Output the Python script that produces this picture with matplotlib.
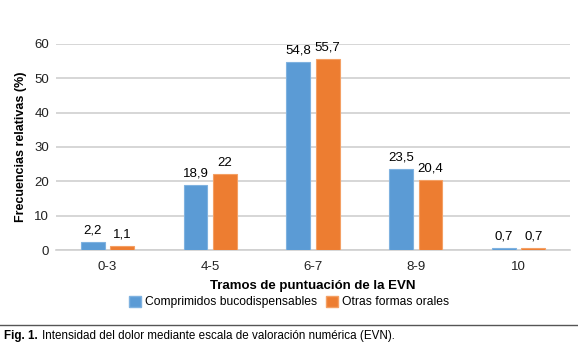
import matplotlib.pyplot as plt
import numpy as np
from matplotlib.lines import Line2D
from matplotlib.patches import Patch

plt.rcParams['font.family'] = ['Liberation Sans', 'DejaVu Sans']

# datos
tramos = ['0-3', '4-5', '6-7', '8-9', '10']
comprimidos = [2.2, 18.9, 54.8, 23.5, 0.7]
otras = [1.1, 22, 55.7, 20.4, 0.7]
etiq_comp = ['2,2', '18,9', '54,8', '23,5', '0,7']
etiq_otras = ['1,1', '22', '55,7', '20,4', '0,7']

azul = '#5B9BD5'
naranja = '#ED7D31'

fig = plt.figure(figsize=(5.78, 3.5), dpi=100)
ax = fig.add_axes([0.097, 0.2857, 0.889, 0.5886])

x = np.arange(len(tramos))
w = 0.23
b1 = ax.bar(x - 0.143, comprimidos, w, color=azul, edgecolor='#7FB2E0', linewidth=0.8, zorder=3)
b2 = ax.bar(x + 0.143, otras, w, color=naranja, edgecolor='#F4A064', linewidth=0.8, zorder=3)

ax.bar_label(b1, labels=etiq_comp, padding=4, fontsize=9.5)
ax.bar_label(b2, labels=etiq_otras, padding=4, fontsize=9.5)

ax.set_xlim(-0.5, len(tramos) - 0.5)
ax.set_ylim(0, 60)
ax.set_yticks(range(0, 61, 10))
ax.set_xticks(x)
ax.set_xticklabels(tramos)
ax.tick_params(axis='both', length=0, labelsize=9.5, colors='#222222')
ax.tick_params(axis='x', pad=8)
ax.tick_params(axis='y', pad=5)
ax.grid(axis='y', color='#D0D0D0', linewidth=1.2, zorder=0)
for s in ['top', 'right', 'left']:
    ax.spines[s].set_visible(False)
ax.spines['bottom'].set_color('#D0D0D0')
ax.spines['bottom'].set_linewidth(1.2)

fig.text(21 / 578, 1 - 147 / 350, 'Frecuencias relativas (%)', rotation=90,
         fontsize=9, fontweight='bold', ha='center', va='center')
ax.set_xlabel('Tramos de puntuación de la EVN', fontsize=9.5, fontweight='bold', labelpad=5)

handles = [Patch(facecolor=azul, edgecolor='#7FB2E0'), Patch(facecolor=naranja, edgecolor='#F4A064')]
fig.legend(handles, ['Comprimidos bucodispensables', 'Otras formas orales'],
           loc='center', bbox_to_anchor=(0.5, 0.137), ncol=2, frameon=False,
           fontsize=8.7, handlelength=1.0, handleheight=1.0, handletextpad=0.3,
           columnspacing=0.8)

fig.add_artist(Line2D([0, 1], [0.071, 0.071], color='#555555', linewidth=1.0))
fig.text(0.007, 0.04, 'Fig. 1.', fontsize=8.4, fontweight='bold', va='center')
fig.text(0.072, 0.04, 'Intensidad del dolor mediante escala de valoración numérica (EVN).',
         fontsize=8.4, va='center')

fig.savefig('out.png', dpi=100)
